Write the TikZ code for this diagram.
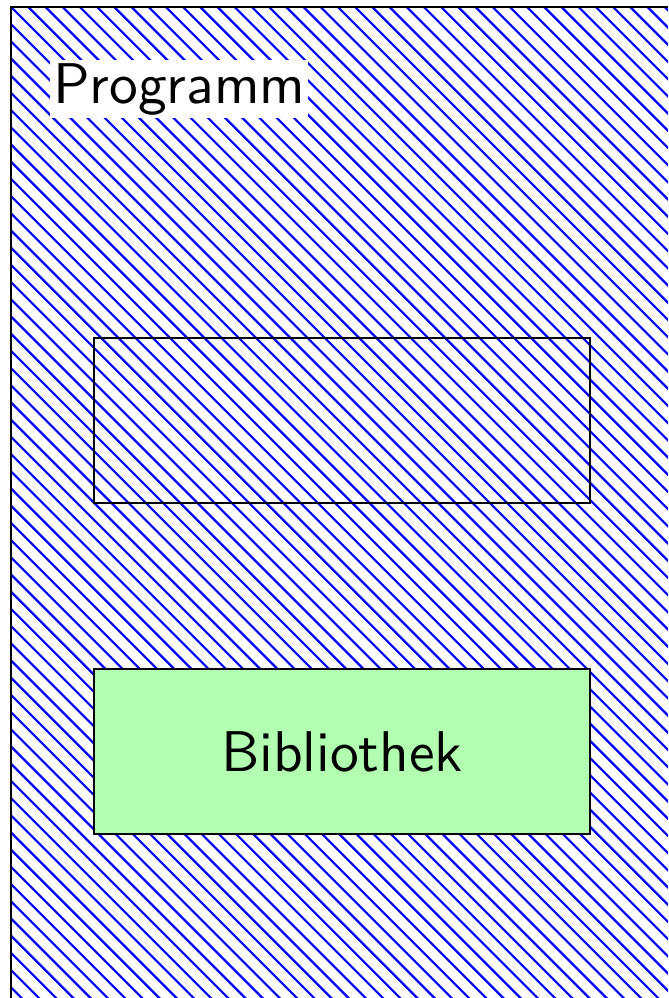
\documentclass[tikz,border=0pt]{standalone}
\begin{document}
\begin{tikzpicture}[x=0.1741pt,y=-0.1741pt,
  box/.style={draw=black,line width=0.5pt},
  hatch/.style={draw=blue,line width=0.38pt},
  lbl/.style={font=\sffamily\fontsize{10}{12}\selectfont,text=black}]
\useasboundingbox (0,0) rectangle (668,998);
\clip (0,0) rectangle (668,998);
\coordinate (outerTL) at (11,7);
\coordinate (outerBR) at (700,1030);
\fill[white] (outerTL) rectangle (outerBR);
\begin{scope}
\clip (outerTL) rectangle (outerBR);
\foreach \k in {-62,...,40} {
  \draw[hatch] ({11.3+\k*17.2},-10) -- ({11.3+\k*17.2+1110},1100);
}
\end{scope}
\draw[box] (outerTL) rectangle (outerBR);
\node[box,minimum width=496*0.1741pt,minimum height=165*0.1741pt,inner sep=0pt] (inner) at (342,420.5) {};
\node[box,fill=green!30,minimum width=496*0.1741pt,minimum height=165*0.1741pt,inner sep=0pt,lbl] (lib) at (342,751.5) {Bibliothek};
\node[lbl,fill=white,inner sep=0.5pt,anchor=base west] (prog) at (49,103) {Programm};
\end{tikzpicture}
\end{document}
